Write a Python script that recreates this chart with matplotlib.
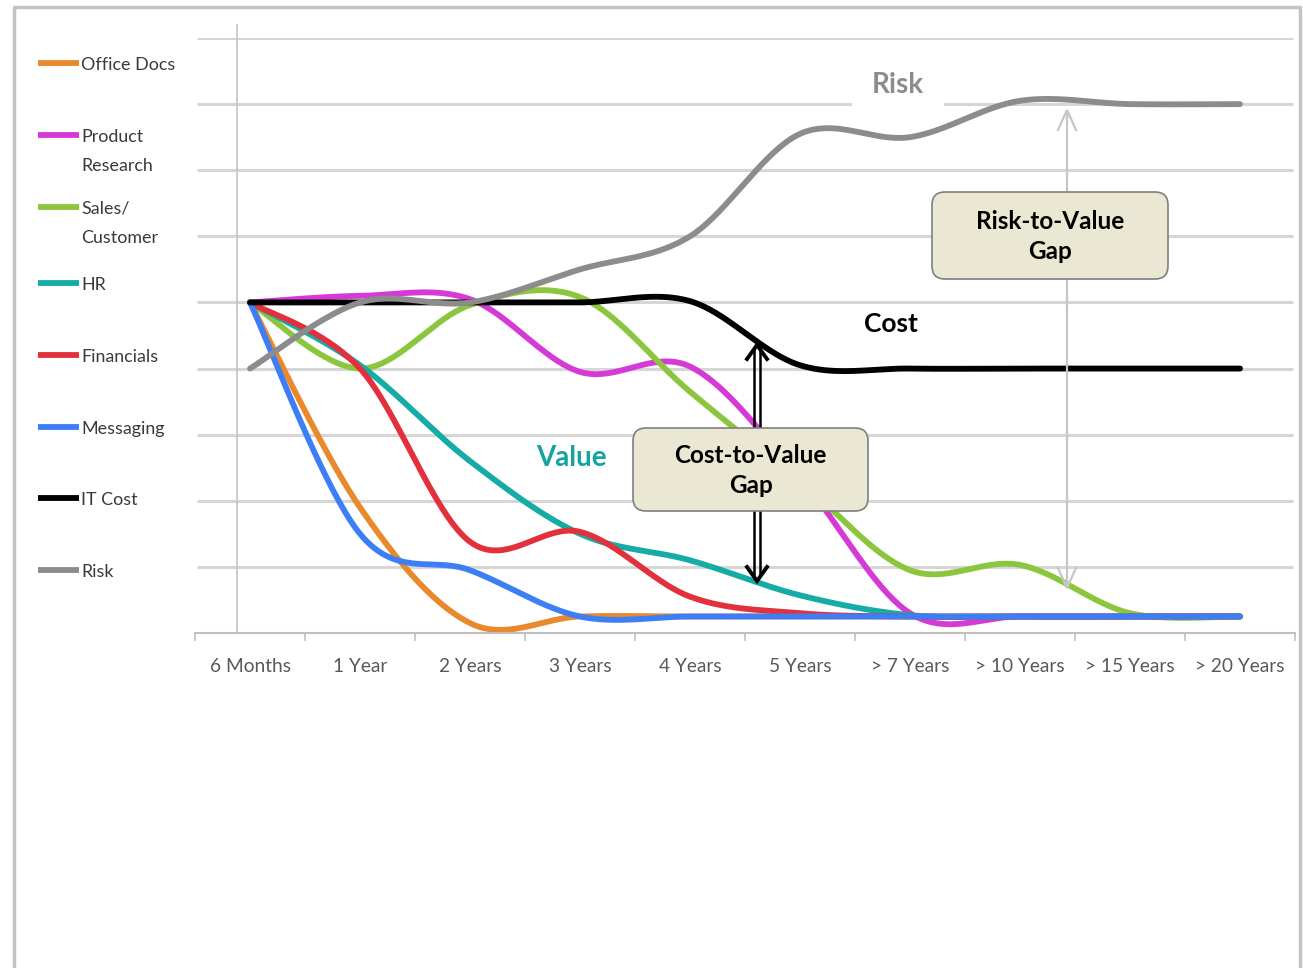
import matplotlib
matplotlib.use('Agg')
import matplotlib.pyplot as plt
import numpy as np
from matplotlib.patches import FancyBboxPatch
from matplotlib.lines import Line2D

periods = ['6 Months', '1 Year', '2 Years', '3 Years', '4 Years', '5 Years',
           '> 7 Years', '> 10 Years', '> 15 Years', '> 20 Years']

office_docs = [5.0, 1.9, 0.15, 0.25, 0.25, 0.25, 0.25, 0.25, 0.25, 0.25]
product_research = [5.0, 5.1, 5.05, 3.95, 4.03, 2.35, 0.3, 0.25, 0.25, 0.25]
sales_customer = [5.0, 4.0, 4.96, 5.08, 3.65, 2.3, 0.95, 1.03, 0.3, 0.25]
hr = [5.0, 4.05, 2.6, 1.5, 1.1, 0.57, 0.27, 0.25, 0.25, 0.25]
financials = [5.0, 4.0, 1.38, 1.53, 0.55, 0.3, 0.25, 0.25, 0.25, 0.25]
messaging = [5.0, 1.5, 0.95, 0.25, 0.25, 0.25, 0.25, 0.25, 0.25, 0.25]
it_cost = [5.0, 5.0, 5.0, 5.0, 5.02, 4.05, 4.0, 4.0, 4.0, 4.0]
risk = [4.0, 5.0, 5.0, 5.5, 6.0, 7.55, 7.5, 8.05, 8.0, 8.0]

names = ['Office Docs', 'Product\nResearch', 'Sales/\nCustomer', 'HR',
         'Financials', 'Messaging', 'IT Cost', 'Risk']
series = [office_docs, product_research, sales_customer, hr,
          financials, messaging, it_cost, risk]
colors = ['#E8892C', '#D63AD6', '#8CC63E', '#16ACA6',
          '#E2313C', '#3D7EF6', '#000000', '#8C8C8C']

W, H = 1303, 968
plt.rcParams['font.family'] = ['Lato', 'DejaVu Sans']


def px(x, y):
    return x / W, 1 - y / H


def smooth(xs, ys, n=40):
    # excel-style smoothed line (bezier through every point)
    pts = np.column_stack([xs, ys]).astype(float)
    P = np.vstack([pts[0], pts, pts[-1]])
    out = []
    t = np.linspace(0, 1, n)[:, None]
    for i in range(1, len(P) - 2):
        p0, p1, p2, p3 = P[i - 1], P[i], P[i + 1], P[i + 2]
        c1 = p1 + (p2 - p0) / 6
        c2 = p2 - (p3 - p1) / 6
        seg = (1 - t)**3 * p1 + 3 * (1 - t)**2 * t * c1 + 3 * (1 - t) * t**2 * c2 + t**3 * p2
        out.append(seg if i == 1 else seg[1:])
    return np.vstack(out)


fig = plt.figure(figsize=(W / 100, H / 100), dpi=100)
ax = fig.add_axes([195 / W, 1 - 633 / H, 1100 / W, 595 / H])
ax.set_xlim(-0.5, 9.5)
ax.set_ylim(0, 9)
for s in ['top', 'right', 'left']:
    ax.spines[s].set_visible(False)
ax.spines['bottom'].set_color('#BFBFBF')
ax.spines['bottom'].set_linewidth(1.5)
ax.set_yticks([])
x = np.arange(len(periods))
ax.set_xticks(x)
ax.set_xticklabels(periods, fontsize=13.8, color='#595959')
ax.tick_params(axis='x', which='major', length=0, pad=18)
ax.set_xticks(np.arange(-0.5, 10, 1), minor=True)
ax.tick_params(axis='x', which='minor', length=6, width=1.2, color='#BFBFBF', direction='out')

# gridlines
ax.hlines(np.arange(1, 10), -0.48, 9.48, color='#D6D6D6', lw=2.2, zorder=0.5)
ax.plot([-0.118, -0.118], [0, 9.2], color='#C4C4C4', lw=1.2, clip_on=False, zorder=0.6)

for i in range(len(series)):
    c = smooth(x, series[i])
    ax.plot(c[:, 0], c[:, 1], color=colors[i], lw=4.2, solid_capstyle='round',
            solid_joinstyle='round', zorder=2 + i * 0.01)

# legend
for k, (nm, col) in enumerate(zip(names, colors)):
    yy = [63, 135, 207, 283, 355, 427, 498, 570][k]
    fig.add_artist(Line2D([38 / W, 79 / W], [1 - yy / H, 1 - yy / H], color=col, lw=4.2,
                          solid_capstyle='butt'))
    for j, part in enumerate(nm.split('\n')):
        fig.text(81 / W, 1 - (yy + 2 + 29 * j) / H, part, fontsize=12.9, color='#3A3A3A',
                 va='center', ha='left')

# text labels
ax.text(*px(898, 85), 'Risk', transform=fig.transFigure, fontsize=20, fontweight='bold',
        color='#8C8C8C', ha='center', va='center', zorder=2.5,
        bbox=dict(boxstyle='square,pad=0.7', fc='white', ec='none'))
ax.text(*px(891, 324), 'Cost', transform=fig.transFigure, fontsize=19, fontweight='bold',
        color='black', ha='center', va='center')
ax.text(*px(571, 458), 'Value', transform=fig.transFigure, fontsize=20, fontweight='bold',
        color='#17A3A0', ha='center', va='center')


def vline(x0, y0, y1, **kw):
    fig.add_artist(Line2D([x0 / W, x0 / W], [1 - y0 / H, 1 - y1 / H], **kw))


def head(xt, yt, d, col, lw, hw=10, hl=14):
    fig.add_artist(Line2D([(xt - hw) / W, xt / W, (xt + hw) / W],
                          [1 - (yt + d * hl) / H, 1 - yt / H, 1 - (yt + d * hl) / H],
                          color=col, lw=lw, solid_joinstyle='miter', zorder=3))


# cost-to-value double arrow
vline(754, 350, 575, color='black', lw=1.8, zorder=3)
vline(760, 350, 575, color='black', lw=1.8, zorder=3)
head(757, 345, 1, 'black', 2.8)
head(757, 581, -1, 'black', 2.8)

# risk-to-value arrow
vline(1067, 112, 586, color='#C6C6C6', lw=1.6, zorder=3)
head(1067, 110, 1, '#C6C6C6', 1.6, hw=9, hl=20)
head(1067, 588, -1, '#C6C6C6', 1.6, hw=9, hl=20)


def gap_box(x0, y0, x1, y1, label):
    b = FancyBboxPatch((x0 / 100, (H - y1) / 100), (x1 - x0) / 100, (y1 - y0) / 100,
                       boxstyle='round,pad=0,rounding_size=0.13',
                       transform=fig.dpi_scale_trans, fc='#EAE8D3', ec='#7F7F7F',
                       lw=1.2, zorder=4)
    fig.add_artist(b)
    fig.text(((x0 + x1) / 2) / W, 1 - ((y0 + y1) / 2 + 1) / H, label, fontsize=17.5,
             fontweight='bold', ha='center', va='center', linespacing=1.4, zorder=5)


gap_box(633, 428, 868, 511, 'Cost-to-Value\nGap')
gap_box(932, 192, 1168, 279, 'Risk-to-Value\nGap')

# outer frame
frame_c = '#C3C3C3'
fig.add_artist(Line2D([14 / W, 14 / W, 1300 / W, 1300 / W],
                      [0, 1 - 7 / H, 1 - 7 / H, 0], color=frame_c, lw=2.5))

fig.savefig('out.png', dpi=100)
